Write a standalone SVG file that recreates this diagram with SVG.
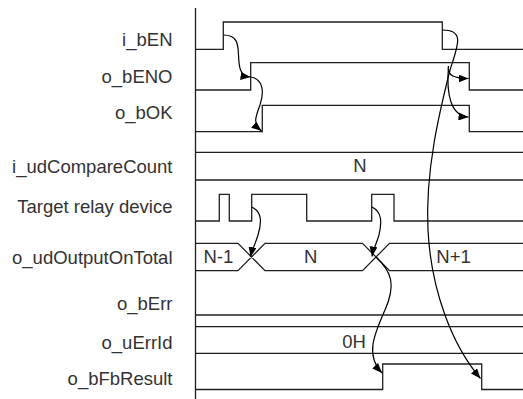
<svg xmlns="http://www.w3.org/2000/svg" width="523" height="399" viewBox="0 0 523 399">
<style>
.sig{fill:none;stroke:#231f20;stroke-width:1.3}
.con{fill:none;stroke:#000;stroke-width:1.2}
.lbl{font-family:"Liberation Sans",Arial,sans-serif;font-size:18.5px;fill:#333;text-anchor:end}
.val{font-family:"Liberation Sans",Arial,sans-serif;font-size:18.5px;fill:#333;text-anchor:middle}
</style>
<defs>
<marker id="ah" viewBox="0 0 10 8" refX="10" refY="4" markerWidth="10" markerHeight="8" markerUnits="userSpaceOnUse" orient="auto">
<path d="M0,0 L10,4 L0,8 z" fill="#000"/>
</marker>
</defs>
<rect width="523" height="399" fill="#fff"/>
<line class="sig" x1="195.5" y1="8" x2="195.5" y2="399"/>
<g id="i_bEN">
<text class="lbl" x="172.5" y="45.7">i_bEN</text>
<path class="sig" d="M195.5,49.3 H223.3 V22 H442.3 V49.3 H523"/>
</g>
<g id="o_bENO">
<text class="lbl" x="172.5" y="82.7">o_bENO</text>
<path class="sig" d="M195.5,90 H250.7 V62.7 H469.3 V90 H523"/>
</g>
<g id="o_bOK">
<text class="lbl" x="172.5" y="119.3">o_bOK</text>
<path class="sig" d="M195.5,131.7 H262.3 V105.3 H469.3 V131.7 H523"/>
</g>
<g id="i_udCompareCount">
<text class="lbl" x="172.5" y="172.5">i_udCompareCount</text>
<path class="sig" d="M195.5,152.3 H523 M195.5,180 H523"/>
<text class="val" x="360" y="171.5">N</text>
</g>
<g id="target_relay">
<text class="lbl" x="172.5" y="212.5">Target relay device</text>
<path class="sig" d="M195.5,221 H219.3 V194.3 H229.3 V221 H251.7 V194.3 H306.7 V221 H371.7 V194.3 H394 V221 H523"/>
</g>
<g id="o_udOutputOnTotal">
<text class="lbl" x="172.5" y="263.5">o_udOutputOnTotal</text>
<path class="sig" d="M195.5,243.3 H238 L265,270.7 H362.5 L389.5,243.3 H523 M195.5,270.7 H238 L265,243.3 H362.5 L389.5,270.7 H523"/>
<text class="val" x="218.3" y="263">N-1</text>
<text class="val" x="310.7" y="263">N</text>
<text class="val" x="453.5" y="263">N+1</text>
</g>
<g id="o_bErr">
<text class="lbl" x="172.5" y="309.5">o_bErr</text>
<path class="sig" d="M195.5,315 H523"/>
</g>
<g id="o_uErrId">
<text class="lbl" x="172.5" y="348.5">o_uErrId</text>
<path class="sig" d="M195.5,326.7 H523 M195.5,353.3 H523"/>
<text class="val" x="354" y="347.5">0H</text>
</g>
<g id="o_bFbResult">
<text class="lbl" x="172.5" y="384.5">o_bFbResult</text>
<path class="sig" d="M195.5,389.5 H382.7 V364 H481.7 V389.5 H523"/>
</g>
<g id="connectors">
<path class="con" marker-end="url(#ah)" d="M223.5,35 C238,35 238,45 238.5,55 C239,68 240,76 250.5,77"/>
<path class="con" marker-end="url(#ah)" d="M251,77 C262,79 265,90 260,105 C255,118 253,124 261.5,131"/>
<path class="con" d="M442.5,30 C465,30 458,45 450,70 C440,110 425,170 428,230"/>
<path class="con" marker-end="url(#ah)" d="M428,230 C431,290 452,345 480.5,378.5"/>
<path class="con" marker-end="url(#ah)" d="M448.5,66 C447,76 455,78.5 468.5,78.5"/>
<path class="con" marker-end="url(#ah)" d="M448.5,66 C446,95 451,116 468.5,117"/>
<path class="con" marker-end="url(#ah)" d="M251.7,207 C262,212 262,222 258,235 C255,245 252,250 250.5,257"/>
<path class="con" marker-end="url(#ah)" d="M372,207 C382,212 382,222 379,235 C376,245 373,250 372,256.5"/>
<path class="con" marker-end="url(#ah)" d="M376,257 C392,272 396,285 385,310 C374,335 365,355 382,373"/>
</g>
</svg>
